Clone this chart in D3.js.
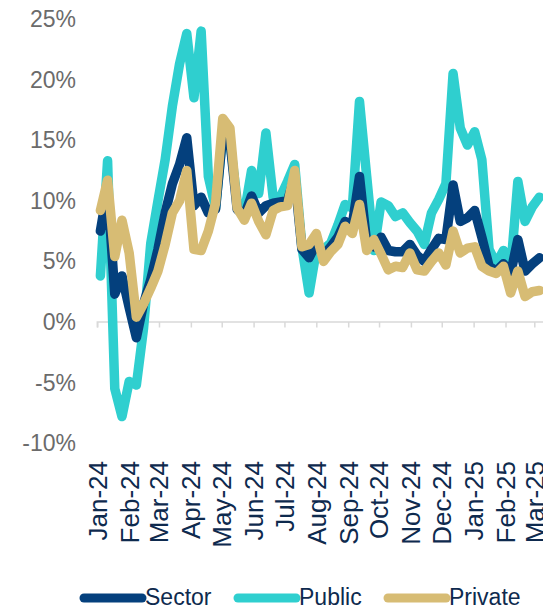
<!DOCTYPE html>
<html>
<head>
<meta charset="utf-8">
<script src="https://cdn.jsdelivr.net/npm/d3@7"></script>
<style>
  html, body { margin: 0; padding: 0; background: #fff; }
  svg { display: block; font-family: 'Liberation Sans', Arial, sans-serif; }
</style>
</head>
<body>
<svg id="chart" width="543" height="605"></svg>
<script>
// weekly growth, %, first week ending Jan 4 2024
const sector = [
  7.5, 11.0, 2.3, 3.8, 1.2, -1.3, 1.5, 3.5, 6.0, 9.0,
  11.4, 13.0, 15.2, 9.6, 10.3, 9.0, 9.3, 15.5, 15.0, 9.3,
  8.8, 10.4, 9.0, 9.6, 9.8, 9.9, 10.0, 12.0, 6.0, 5.3,
  6.5, 5.5, 6.2, 7.0, 8.3, 8.0, 12.0, 6.5, 6.2, 7.0,
  5.9, 5.8, 5.8, 6.4, 5.5, 5.0, 6.0, 6.9, 6.8, 11.3,
  8.3, 8.6, 9.2, 7.0, 4.6, 4.2, 4.8, 4.0, 6.8, 4.2,
  4.8, 5.3
]
const publicRate = [
  3.8, 13.3, -5.5, -7.8, -4.9, -5.2, -0.5, 6.5, 10.0, 13.4,
  17.8, 21.3, 23.8, 18.5, 24.0, 12.0, 9.4, 15.5, 15.0, 10.0,
  9.0, 12.5, 10.6, 15.6, 10.3, 10.3, 11.6, 13.0, 6.2, 2.4,
  5.9, 6.0, 6.5, 8.0, 9.7, 9.4, 18.2, 12.0, 5.9, 9.9,
  9.6, 8.7, 9.0, 8.2, 7.5, 6.4, 9.0, 10.1, 11.4, 20.5,
  16.0, 14.6, 15.7, 13.4, 6.0, 4.8, 5.9, 4.3, 11.6, 8.3,
  9.5, 10.3
]
const privateRate = [
  9.2, 11.7, 5.4, 8.4, 5.7, 0.4, 1.5, 2.8, 4.2, 6.4,
  9.0, 10.0, 12.5, 6.0, 5.9, 7.5, 9.8, 16.8, 16.0, 9.4,
  8.4, 9.8, 8.3, 7.2, 9.2, 9.5, 9.6, 12.5, 6.2, 6.4,
  7.3, 5.0, 5.8, 6.4, 7.9, 7.3, 9.7, 5.9, 6.8, 5.6,
  4.3, 4.6, 4.5, 5.7, 4.3, 4.2, 5.0, 5.7, 4.7, 7.5,
  5.7, 6.1, 6.2, 4.6, 4.2, 4.0, 4.6, 2.4, 4.2, 2.1,
  2.5, 2.6
]
const monthLabels = ['Jan-24', 'Feb-24', 'Mar-24', 'Apr-24', 'May-24', 'Jun-24', 'Jul-24',
  'Aug-24', 'Sep-24', 'Oct-24', 'Nov-24', 'Dec-24', 'Jan-25', 'Feb-25', 'Mar-25']
const yTicks = [-10, -5, 0, 5, 10, 15, 20, 25]
const seriesNames = ['Sector', 'Public', 'Private']
const seriesColors = ['#04407d', '#2fcfcf', '#d7bc74']

const firstWeek = new Date(Date.UTC(2024, 0, 4))
const weeks = sector.map((_, i) => d3.utcDay.offset(firstWeek, 7 * i))
const months = d3.utcMonth.range(new Date(Date.UTC(2024, 0, 1)), new Date(Date.UTC(2025, 2, 2)))

const series = [
  { name: seriesNames[0], color: seriesColors[0], values: sector },
  { name: seriesNames[1], color: seriesColors[1], values: publicRate },
  { name: seriesNames[2], color: seriesColors[2], values: privateRate }
]

// scales
const x = d3.scaleUtc()
  .domain([months[0], months[months.length - 1]])
  .range([97.3, 534.3])
const y = d3.scaleLinear()
  .domain([-10, 25])
  .range([443.2, 19])

const svg = d3.select('#chart')

// y labels, no axis line
svg.append('g')
  .selectAll('text')
  .data(yTicks)
  .enter()
  .append('text')
  .attr('x', 76)
  .attr('y', d => y(d))
  .attr('dy', '0.35em')
  .attr('text-anchor', 'end')
  .style('font-size', '23px')
  .style('fill', '#6b6b6b')
  .text(d => d + '%')

// x axis on the zero line
const xAxis = svg.append('g')
  .attr('transform', `translate(0, ${y(0)})`)
  .call(d3.axisBottom(x)
    .tickValues(months)
    .tickSize(5.5)
    .tickFormat(''))
xAxis.select('.domain')
  .attr('stroke', '#d9d9d9')
  .attr('stroke-width', 1.5)
  .attr('d', `M${x(months[0])},5.5V0H${543}`)
xAxis.selectAll('.tick line')
  .attr('stroke', '#d9d9d9')
  .attr('stroke-width', 1.5)

svg.append('g')
  .selectAll('text')
  .data(months)
  .enter()
  .append('text')
  .attr('transform', d => `translate(${x(d)}, 461) rotate(-90)`)
  .attr('dy', '0.36em')
  .attr('text-anchor', 'end')
  .style('font-size', '26px')
  .style('fill', '#0e2a4e')
  .text((d, i) => monthLabels[i])

// lines, private on top
const line = d3.line()
  .x((d, i) => x(weeks[i]))
  .y(d => y(d))

const drawOrder = [series[1], series[0], series[2]]
svg.append('g')
  .selectAll('path')
  .data(drawOrder)
  .enter()
  .append('path')
  .attr('d', d => line(d.values))
  .attr('fill', 'none')
  .attr('stroke', d => d.color)
  .attr('stroke-width', 9.5)
  .attr('stroke-linejoin', 'round')
  .attr('stroke-linecap', 'round')

// legend
const legendX = [84, 238, 388]
const legend = svg.append('g')
  .selectAll('g')
  .data(series)
  .enter()
  .append('g')
  .attr('transform', (d, i) => `translate(${legendX[i]}, 598)`)
legend.append('line')
  .attr('x1', 0)
  .attr('x2', 58)
  .attr('stroke', d => d.color)
  .attr('stroke-width', 9)
  .attr('stroke-linecap', 'round')
legend.append('text')
  .attr('x', 61)
  .attr('y', 7)
  .style('font-size', '23px')
  .style('fill', '#0e2a4e')
  .text(d => d.name)
</script>
</body>
</html>
